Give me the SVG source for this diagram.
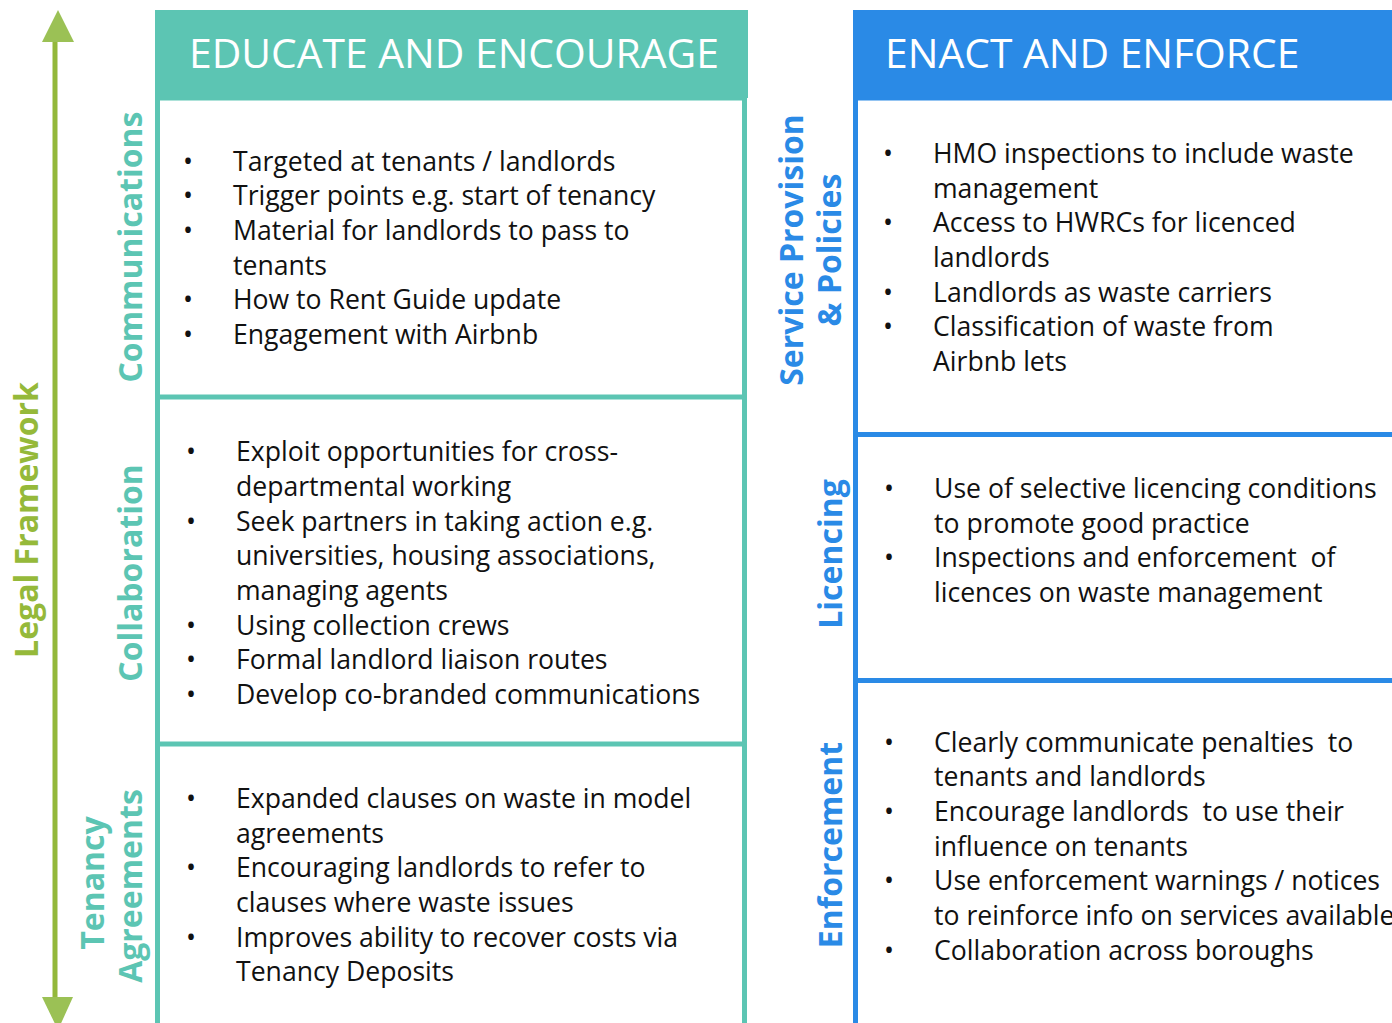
<svg xmlns="http://www.w3.org/2000/svg" width="1392" height="1023" viewBox="0 0 1392 1023">
<style>
.body{font-family:"Open Sans","Noto Sans",sans-serif;font-size:26.6px;fill:#111}
.hdr{font-family:"Open Sans","Noto Sans",sans-serif;font-size:40.8px;fill:#fff}
.vt{font-family:"Open Sans","Noto Sans",sans-serif;font-size:32px;font-weight:bold;text-anchor:middle}
.teal{fill:#5cc5b3}
.blue{fill:#2a8ae6}
.green{fill:#95b93a}
</style>
<rect width="1392" height="1023" fill="#fff"/>
<g id="legal-arrow">
<line x1="55" y1="40" x2="55" y2="1000" stroke="#93b83a" stroke-width="5"/>
<polygon points="58,10 74,42 42,42" fill="#9bc155"/>
<polygon points="42,997 73,997 58,1030" fill="#9bc155"/>
<text class="vt green" transform="translate(38,520) rotate(-90)">Legal Framework</text>
</g>
<g id="educate">
<rect x="155" y="10" width="593" height="88" fill="#5cc5b3"/>
<text class="hdr" x="189" y="68">EDUCATE AND ENCOURAGE</text>
<rect x="157.5" y="98" width="587" height="940" fill="none" stroke="#5cc5b3" stroke-width="5"/>
<line x1="157" y1="397" x2="745" y2="397" stroke="#5cc5b3" stroke-width="5"/>
<line x1="157" y1="744" x2="745" y2="744" stroke="#5cc5b3" stroke-width="5"/>
</g>
<g id="communications">
<text class="vt teal" transform="translate(142,247) rotate(-90)">Communications</text>
<text class="body" transform="translate(0,1)"><tspan x="183" y="170">•</tspan><tspan x="233" y="170">Targeted at tenants / landlords</tspan>
<tspan x="183" y="204">•</tspan><tspan x="233" y="204">Trigger points e.g. start of tenancy</tspan>
<tspan x="183" y="239">•</tspan><tspan x="233" y="239">Material for landlords to pass to</tspan>
<tspan x="233" y="274">tenants</tspan>
<tspan x="183" y="308">•</tspan><tspan x="233" y="308">How to Rent Guide update</tspan>
<tspan x="183" y="343">•</tspan><tspan x="233" y="343">Engagement with Airbnb</tspan></text>
</g>
<g id="collaboration">
<text class="vt teal" transform="translate(142,573) rotate(-90)">Collaboration</text>
<text class="body" transform="translate(0,1)"><tspan x="186" y="460">•</tspan><tspan x="236" y="460">Exploit opportunities for cross-</tspan>
<tspan x="236" y="495">departmental working</tspan>
<tspan x="186" y="530">•</tspan><tspan x="236" y="530">Seek partners in taking action e.g.</tspan>
<tspan x="236" y="564">universities, housing associations,</tspan>
<tspan x="236" y="599">managing agents</tspan>
<tspan x="186" y="634">•</tspan><tspan x="236" y="634">Using collection crews</tspan>
<tspan x="186" y="668">•</tspan><tspan x="236" y="668">Formal landlord liaison routes</tspan>
<tspan x="186" y="703">•</tspan><tspan x="236" y="703">Develop co-branded communications</tspan></text>
</g>
<g id="tenancy">
<text class="vt teal" transform="translate(104,883) rotate(-90)">Tenancy</text>
<text class="vt teal" transform="translate(142,886) rotate(-90)">Agreements</text>
<text class="body" transform="translate(0,1)"><tspan x="186" y="807">•</tspan><tspan x="236" y="807">Expanded clauses on waste in model</tspan>
<tspan x="236" y="842">agreements</tspan>
<tspan x="186" y="876">•</tspan><tspan x="236" y="876">Encouraging landlords to refer to</tspan>
<tspan x="236" y="911">clauses where waste issues</tspan>
<tspan x="186" y="946">•</tspan><tspan x="236" y="946">Improves ability to recover costs via</tspan>
<tspan x="236" y="980">Tenancy Deposits</tspan></text>
</g>
<g id="enact">
<rect x="853" y="10" width="539" height="88" fill="#2a8ae6"/>
<text class="hdr" x="885" y="68">ENACT AND ENFORCE</text>
<rect x="855.5" y="98" width="560" height="940" fill="none" stroke="#2a8ae6" stroke-width="5"/>
<line x1="855" y1="434.5" x2="1392" y2="434.5" stroke="#2a8ae6" stroke-width="5"/>
<line x1="855" y1="680.5" x2="1392" y2="680.5" stroke="#2a8ae6" stroke-width="5"/>
</g>
<g id="service">
<text class="vt blue" transform="translate(803,250) rotate(-90)">Service Provision</text>
<text class="vt blue" transform="translate(841,250) rotate(-90)">&amp; Policies</text>
<text class="body" transform="translate(0,1)"><tspan x="883" y="162">•</tspan><tspan x="933" y="162">HMO inspections to include waste</tspan>
<tspan x="933" y="197">management</tspan>
<tspan x="883" y="231">•</tspan><tspan x="933" y="231">Access to HWRCs for licenced</tspan>
<tspan x="933" y="266">landlords</tspan>
<tspan x="883" y="301">•</tspan><tspan x="933" y="301">Landlords as waste carriers</tspan>
<tspan x="883" y="335">•</tspan><tspan x="933" y="335">Classification of waste from</tspan>
<tspan x="933" y="370">Airbnb lets</tspan></text>
</g>
<g id="licencing">
<text class="vt blue" transform="translate(842,554) rotate(-90)">Licencing</text>
<text class="body" xml:space="preserve" transform="translate(0,1)"><tspan x="884" y="497">•</tspan><tspan x="934" y="497">Use of selective licencing conditions</tspan>
<tspan x="934" y="532">to promote good practice</tspan>
<tspan x="884" y="566">•</tspan><tspan x="934" y="566">Inspections and enforcement  of</tspan>
<tspan x="934" y="601">licences on waste management</tspan></text>
</g>
<g id="enforcement">
<text class="vt blue" transform="translate(842,845) rotate(-90)">Enforcement</text>
<text class="body" xml:space="preserve" transform="translate(0,1)"><tspan x="884" y="751">•</tspan><tspan x="934" y="751">Clearly communicate penalties  to</tspan>
<tspan x="934" y="785">tenants and landlords</tspan>
<tspan x="884" y="820">•</tspan><tspan x="934" y="820">Encourage landlords  to use their</tspan>
<tspan x="934" y="855">influence on tenants</tspan>
<tspan x="884" y="889">•</tspan><tspan x="934" y="889">Use enforcement warnings / notices</tspan>
<tspan x="934" y="924">to reinforce info on services available</tspan>
<tspan x="884" y="959">•</tspan><tspan x="934" y="959">Collaboration across boroughs</tspan></text>
</g>
</svg>
